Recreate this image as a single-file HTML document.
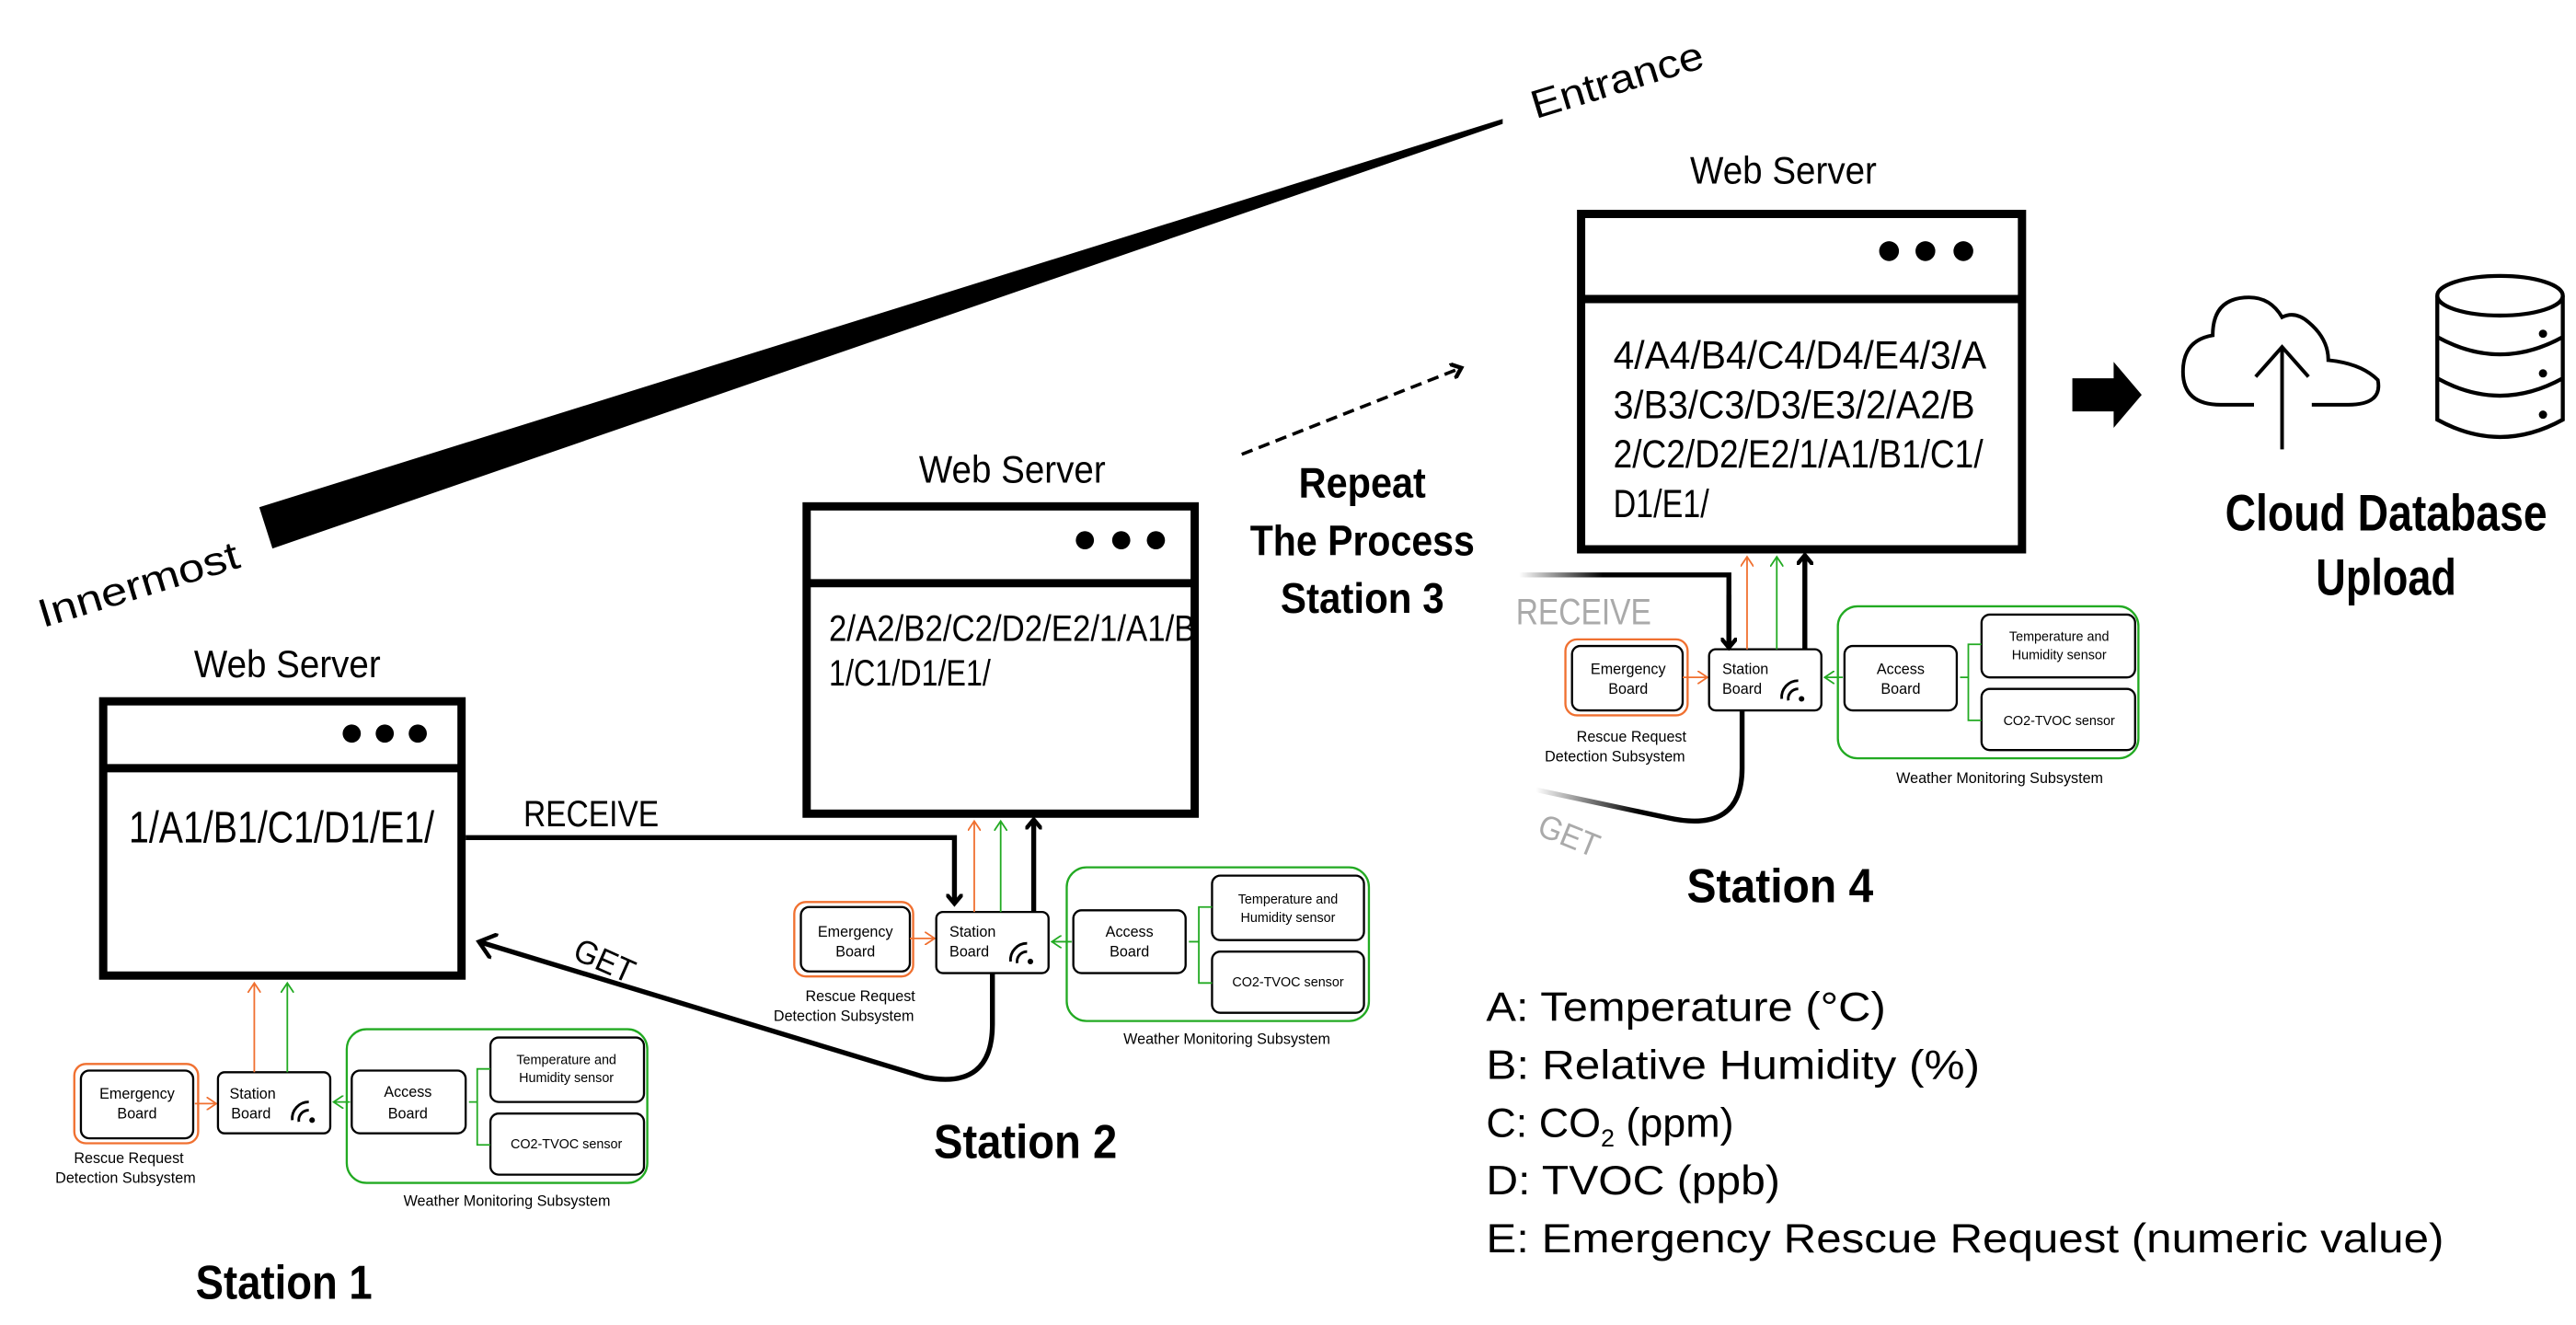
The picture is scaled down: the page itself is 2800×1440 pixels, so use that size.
<!DOCTYPE html>
<html><head><meta charset="utf-8"><style>
html,body{margin:0;padding:0;background:#fff;}
svg{display:block;}
.n{font-family:"Liberation Sans Narrow","Liberation Sans",sans-serif;}
.s{font-family:"Liberation Sans",sans-serif;}
</style></head><body>
<svg width="2800" height="1440" viewBox="0 0 1560 802" preserveAspectRatio="none" xmlns="http://www.w3.org/2000/svg">
<defs>
<marker id="ab" markerWidth="10" markerHeight="10" refX="5" refY="5" orient="auto" markerUnits="userSpaceOnUse"><path d="M0,0 L6,5 L0,10" fill="none" stroke="#000" stroke-width="2.5"/></marker>
<marker id="ao" markerWidth="8" markerHeight="8" refX="6" refY="4" orient="auto" markerUnits="userSpaceOnUse"><path d="M0,0 L6,4 L0,8" fill="none" stroke="#f07030" stroke-width="1"/></marker>
<marker id="ag" markerWidth="8" markerHeight="8" refX="6" refY="4" orient="auto" markerUnits="userSpaceOnUse"><path d="M0,0 L6,4 L0,8" fill="none" stroke="#22aa22" stroke-width="1"/></marker>
<marker id="abig" markerWidth="16" markerHeight="16" refX="10" refY="8" orient="auto" markerUnits="userSpaceOnUse"><path d="M0,0 L10,8 L0,16" fill="none" stroke="#000" stroke-width="2.5"/></marker>
<linearGradient id="gr" x1="0" x2="1" y1="0" y2="0"><stop offset="0" stop-color="#fff"/><stop offset="0.4" stop-color="#000"/></linearGradient>
<linearGradient id="gg" x1="0" x2="1" y1="0" y2="0"><stop offset="0" stop-color="#fff"/><stop offset="0.5" stop-color="#000"/></linearGradient>
</defs>

<!-- wedge -->
<polygon points="157,307 910,72 910,75 165,332" fill="#000"/>
<text x="26" y="380" class="s" font-size="24" transform="rotate(-17 26 380)" textLength="126" lengthAdjust="spacingAndGlyphs">Innermost</text>
<text x="930" y="72" class="s" font-size="24" transform="rotate(-17 930 72)" textLength="108" lengthAdjust="spacingAndGlyphs">Entrance</text>

<!-- Station 1 server -->
<text x="174" y="410" class="n" font-size="23" text-anchor="middle" textLength="113" lengthAdjust="spacingAndGlyphs">Web Server</text>
<rect x="62.5" y="424.5" width="217" height="166" fill="none" stroke="#000" stroke-width="5"/>
<line x1="62" y1="465" x2="280" y2="465" stroke="#000" stroke-width="5"/>
<circle cx="213" cy="444" r="5.5"/><circle cx="233" cy="444" r="5.5"/><circle cx="253" cy="444" r="5.5"/>
<text x="78" y="510" class="n" font-size="27" textLength="185" lengthAdjust="spacingAndGlyphs">1/A1/B1/C1/D1/E1/</text>

<!-- Station 1 subsystem -->
<g class="n" font-size="9" text-anchor="middle">
<rect x="45" y="644" width="75" height="48" rx="7" fill="none" stroke="#f07030" stroke-width="1.3"/>
<rect x="49" y="648" width="68" height="41" rx="5" fill="none" stroke="#000" stroke-width="1.3"/>
<text x="83" y="665">Emergency</text><text x="83" y="677">Board</text>
<line x1="118" y1="668" x2="131" y2="668" stroke="#f07030" marker-end="url(#ao)"/>
<rect x="132" y="649" width="68" height="37" rx="4" fill="none" stroke="#000" stroke-width="1.3"/>
<text x="153" y="665">Station</text><text x="152" y="677">Board</text>
<rect x="210" y="623" width="182" height="93" rx="12" fill="none" stroke="#22aa22" stroke-width="1.3"/>
<rect x="213" y="648" width="69" height="38" rx="5" fill="none" stroke="#000" stroke-width="1.3"/>
<text x="247" y="664">Access</text><text x="247" y="677">Board</text>
<line x1="212" y1="667" x2="202" y2="667" stroke="#22aa22" marker-end="url(#ag)"/>
<rect x="297" y="628" width="93" height="39" rx="5" fill="none" stroke="#000" stroke-width="1.3"/>
<text x="343" y="644" font-size="8">Temperature and</text><text x="343" y="655" font-size="8">Humidity sensor</text>
<rect x="297" y="674" width="93" height="37" rx="5" fill="none" stroke="#000" stroke-width="1.3"/>
<text x="343" y="695" font-size="8">CO2-TVOC sensor</text>
<path d="M297,647 H289 V693 H297 M289,667 H284" fill="none" stroke="#22aa22"/>
<text x="78" y="704">Rescue Request</text><text x="76" y="716">Detection Subsystem</text>
<text x="307" y="730">Weather Monitoring Subsystem</text>
</g>
<path d="M177,678 a10,10 0 0 1 10,-11 M181,679 a6,6 0 0 1 6,-7" fill="none" stroke="#000" stroke-width="1.6"/><circle cx="189" cy="678" r="1.7"/>
<line x1="154" y1="649" x2="154" y2="595" stroke="#f07030" marker-end="url(#ao)"/>
<line x1="174" y1="649" x2="174" y2="595" stroke="#22aa22" marker-end="url(#ag)"/>
<text x="172" y="786" class="n" font-size="29" font-weight="bold" text-anchor="middle" textLength="107" lengthAdjust="spacingAndGlyphs">Station 1</text>

<!-- RECEIVE / GET to station 2 -->
<path d="M282,507 H578 V546" fill="none" stroke="#000" stroke-width="3" marker-end="url(#ab)"/>
<text x="317" y="500" class="n" font-size="22" textLength="82" lengthAdjust="spacingAndGlyphs">RECEIVE</text>
<path d="M601,589 V620 Q601,660 560,652 L290,570" fill="none" stroke="#000" stroke-width="3" marker-end="url(#abig)"/>
<text x="346" y="580" class="n" font-size="20" transform="rotate(24 346 580)" textLength="38" lengthAdjust="spacingAndGlyphs">GET</text>

<!-- Station 2 server -->
<text x="613" y="292" class="n" font-size="23" text-anchor="middle" textLength="113" lengthAdjust="spacingAndGlyphs">Web Server</text>
<rect x="488.5" y="306.5" width="235" height="186" fill="none" stroke="#000" stroke-width="5"/>
<line x1="488" y1="353" x2="724" y2="353" stroke="#000" stroke-width="5"/>
<circle cx="657" cy="327" r="5.5"/><circle cx="679" cy="327" r="5.5"/><circle cx="700" cy="327" r="5.5"/>
<text x="502" y="388" class="n" font-size="22" textLength="222" lengthAdjust="spacingAndGlyphs">2/A2/B2/C2/D2/E2/1/A1/B</text>
<text x="502" y="415" class="n" font-size="22" textLength="98" lengthAdjust="spacingAndGlyphs">1/C1/D1/E1/</text>

<!-- Station 2 subsystem -->
<g class="n" font-size="9" text-anchor="middle">
<rect x="481" y="546" width="72" height="45" rx="7" fill="none" stroke="#f07030" stroke-width="1.3"/>
<rect x="485" y="549" width="66" height="39" rx="5" fill="none" stroke="#000" stroke-width="1.3"/>
<text x="518" y="567">Emergency</text><text x="518" y="579">Board</text>
<line x1="551" y1="568" x2="566" y2="568" stroke="#f07030" marker-end="url(#ao)"/>
<rect x="567" y="552" width="68" height="37" rx="4" fill="none" stroke="#000" stroke-width="1.3"/>
<text x="589" y="567">Station</text><text x="587" y="579">Board</text>
<rect x="646" y="525" width="183" height="93" rx="12" fill="none" stroke="#22aa22" stroke-width="1.3"/>
<rect x="650" y="551" width="68" height="38" rx="5" fill="none" stroke="#000" stroke-width="1.3"/>
<text x="684" y="567">Access</text><text x="684" y="579">Board</text>
<line x1="649" y1="570" x2="637" y2="570" stroke="#22aa22" marker-end="url(#ag)"/>
<rect x="734" y="530" width="92" height="39" rx="5" fill="none" stroke="#000" stroke-width="1.3"/>
<text x="780" y="547" font-size="8">Temperature and</text><text x="780" y="558" font-size="8">Humidity sensor</text>
<rect x="734" y="576" width="92" height="37" rx="5" fill="none" stroke="#000" stroke-width="1.3"/>
<text x="780" y="597" font-size="8">CO2-TVOC sensor</text>
<path d="M734,549 H726 V595 H734 M726,570 H720" fill="none" stroke="#22aa22"/>
<text x="521" y="606">Rescue Request</text><text x="511" y="618">Detection Subsystem</text>
<text x="743" y="632">Weather Monitoring Subsystem</text>
</g>
<path d="M612,582 a10,10 0 0 1 10,-11 M616,583 a6,6 0 0 1 6,-7" fill="none" stroke="#000" stroke-width="1.6"/><circle cx="624" cy="582" r="1.7"/>
<line x1="590" y1="552" x2="590" y2="497" stroke="#f07030" marker-end="url(#ao)"/>
<line x1="606" y1="552" x2="606" y2="497" stroke="#22aa22" marker-end="url(#ag)"/>
<line x1="626" y1="552" x2="626" y2="497" stroke="#000" stroke-width="3" marker-end="url(#ab)"/>
<text x="621" y="701" class="n" font-size="29" font-weight="bold" text-anchor="middle" textLength="111" lengthAdjust="spacingAndGlyphs">Station 2</text>

<!-- Repeat -->
<line x1="752" y1="275" x2="884" y2="223" stroke="#000" stroke-width="2" stroke-dasharray="7,4" marker-end="url(#ab)"/>
<g class="n" font-size="26" font-weight="bold" text-anchor="middle">
<text x="825" y="301" textLength="77" lengthAdjust="spacingAndGlyphs">Repeat</text>
<text x="825" y="336" textLength="136" lengthAdjust="spacingAndGlyphs">The Process</text>
<text x="825" y="371" textLength="99" lengthAdjust="spacingAndGlyphs">Station 3</text>
</g>

<!-- Station 4 server -->
<text x="1080" y="111" class="n" font-size="23" text-anchor="middle" textLength="113" lengthAdjust="spacingAndGlyphs">Web Server</text>
<rect x="957.5" y="129.5" width="267" height="203" fill="none" stroke="#000" stroke-width="5"/>
<line x1="957" y1="181" x2="1225" y2="181" stroke="#000" stroke-width="5"/>
<circle cx="1144" cy="152" r="6"/><circle cx="1166" cy="152" r="6"/><circle cx="1189" cy="152" r="6"/>
<g class="n" font-size="24">
<text x="977" y="223" textLength="226" lengthAdjust="spacingAndGlyphs">4/A4/B4/C4/D4/E4/3/A</text>
<text x="977" y="253" textLength="219" lengthAdjust="spacingAndGlyphs">3/B3/C3/D3/E3/2/A2/B</text>
<text x="977" y="283" textLength="224" lengthAdjust="spacingAndGlyphs">2/C2/D2/E2/1/A1/B1/C1/</text>
<text x="977" y="313" textLength="58" lengthAdjust="spacingAndGlyphs">D1/E1/</text>
</g>

<!-- Station 4 subsystem -->
<g class="n" font-size="9" text-anchor="middle">
<rect x="948" y="387" width="74" height="46" rx="7" fill="none" stroke="#f07030" stroke-width="1.3"/>
<rect x="952" y="391" width="67" height="39" rx="5" fill="none" stroke="#000" stroke-width="1.3"/>
<text x="986" y="408">Emergency</text><text x="986" y="420">Board</text>
<line x1="1019" y1="410" x2="1034" y2="410" stroke="#f07030" marker-end="url(#ao)"/>
<rect x="1035" y="393" width="68" height="37" rx="4" fill="none" stroke="#000" stroke-width="1.3"/>
<text x="1057" y="408">Station</text><text x="1055" y="420">Board</text>
<rect x="1113" y="367" width="182" height="92" rx="12" fill="none" stroke="#22aa22" stroke-width="1.3"/>
<rect x="1117" y="391" width="68" height="39" rx="5" fill="none" stroke="#000" stroke-width="1.3"/>
<text x="1151" y="408">Access</text><text x="1151" y="420">Board</text>
<line x1="1116" y1="410" x2="1105" y2="410" stroke="#22aa22" marker-end="url(#ag)"/>
<rect x="1200" y="372" width="93" height="38" rx="5" fill="none" stroke="#000" stroke-width="1.3"/>
<text x="1247" y="388" font-size="8">Temperature and</text><text x="1247" y="399" font-size="8">Humidity sensor</text>
<rect x="1200" y="417" width="93" height="37" rx="5" fill="none" stroke="#000" stroke-width="1.3"/>
<text x="1247" y="439" font-size="8">CO2-TVOC sensor</text>
<path d="M1200,390 H1192 V436 H1200 M1192,410 H1187" fill="none" stroke="#22aa22"/>
<text x="988" y="449">Rescue Request</text><text x="978" y="461">Detection Subsystem</text>
<text x="1211" y="474">Weather Monitoring Subsystem</text>
</g>
<path d="M1079,423 a10,10 0 0 1 10,-11 M1083,424 a6,6 0 0 1 6,-7" fill="none" stroke="#000" stroke-width="1.6"/><circle cx="1091" cy="423" r="1.7"/>
<path d="M920,348 H1047 V391" fill="none" stroke="url(#gr)" stroke-width="3"/>
<path d="M1047,360 V391" fill="none" stroke="#000" stroke-width="3" marker-end="url(#ab)"/>
<text x="918" y="378" class="n" font-size="22" fill="#aaa" textLength="82" lengthAdjust="spacingAndGlyphs">RECEIVE</text>
<line x1="1058" y1="393" x2="1058" y2="337" stroke="#f07030" marker-end="url(#ao)"/>
<line x1="1076" y1="393" x2="1076" y2="337" stroke="#22aa22" marker-end="url(#ag)"/>
<line x1="1093" y1="393" x2="1093" y2="337" stroke="#000" stroke-width="3" marker-end="url(#ab)"/>
<path d="M1055,430 V465 Q1055,505 1010,495 L930,478" fill="none" stroke="url(#gg)" stroke-width="3"/>
<text x="930" y="505" class="n" font-size="20" fill="#aaa" transform="rotate(22 930 505)" textLength="38" lengthAdjust="spacingAndGlyphs">GET</text>
<text x="1078" y="546" class="n" font-size="29" font-weight="bold" text-anchor="middle" textLength="113" lengthAdjust="spacingAndGlyphs">Station 4</text>

<!-- big arrow, cloud, db -->
<polygon points="1255,229 1280,229 1280,219 1297,239 1280,259 1280,249 1255,249" fill="#000"/>
<path d="M1365,245 H1345 Q1322,245 1322,225 Q1322,206 1340,203 Q1340,180 1362,180 Q1375,180 1382,192 Q1390,188 1398,195 Q1410,205 1410,218 Q1430,220 1440,230 Q1443,245 1422,245 H1400" fill="none" stroke="#000" stroke-width="2.2"/>
<path d="M1382,272 V210 M1366,228 L1382,210 L1398,228" fill="none" stroke="#000" stroke-width="2.2"/>
<g fill="none" stroke="#000" stroke-width="2.4">
<ellipse cx="1514" cy="179" rx="38" ry="12"/>
<path d="M1476,179 V254 Q1514,275 1552,254 V179"/>
<path d="M1476,204 Q1514,225 1552,204 M1476,229 Q1514,250 1552,229"/>
</g>
<circle cx="1540" cy="202" r="2.5"/><circle cx="1540" cy="226" r="2.5"/><circle cx="1540" cy="251" r="2.5"/>
<g class="n" font-size="31" font-weight="bold" text-anchor="middle">
<text x="1445" y="321" textLength="195" lengthAdjust="spacingAndGlyphs">Cloud Database</text>
<text x="1445" y="360" textLength="85" lengthAdjust="spacingAndGlyphs">Upload</text>
</g>

<!-- legend -->
<g class="s" font-size="25">
<text x="900" y="618" textLength="242" lengthAdjust="spacingAndGlyphs">A: Temperature (°C)</text>
<text x="900" y="653" textLength="299" lengthAdjust="spacingAndGlyphs">B: Relative Humidity (%)</text>
<text x="900" y="688">C: CO<tspan font-size="15" dy="6">2</tspan><tspan dy="-6"> (ppm)</tspan></text>
<text x="900" y="723" textLength="178" lengthAdjust="spacingAndGlyphs">D: TVOC (ppb)</text>
<text x="900" y="758" textLength="580" lengthAdjust="spacingAndGlyphs">E: Emergency Rescue Request (numeric value)</text>
</g>
</svg>
</body></html>
